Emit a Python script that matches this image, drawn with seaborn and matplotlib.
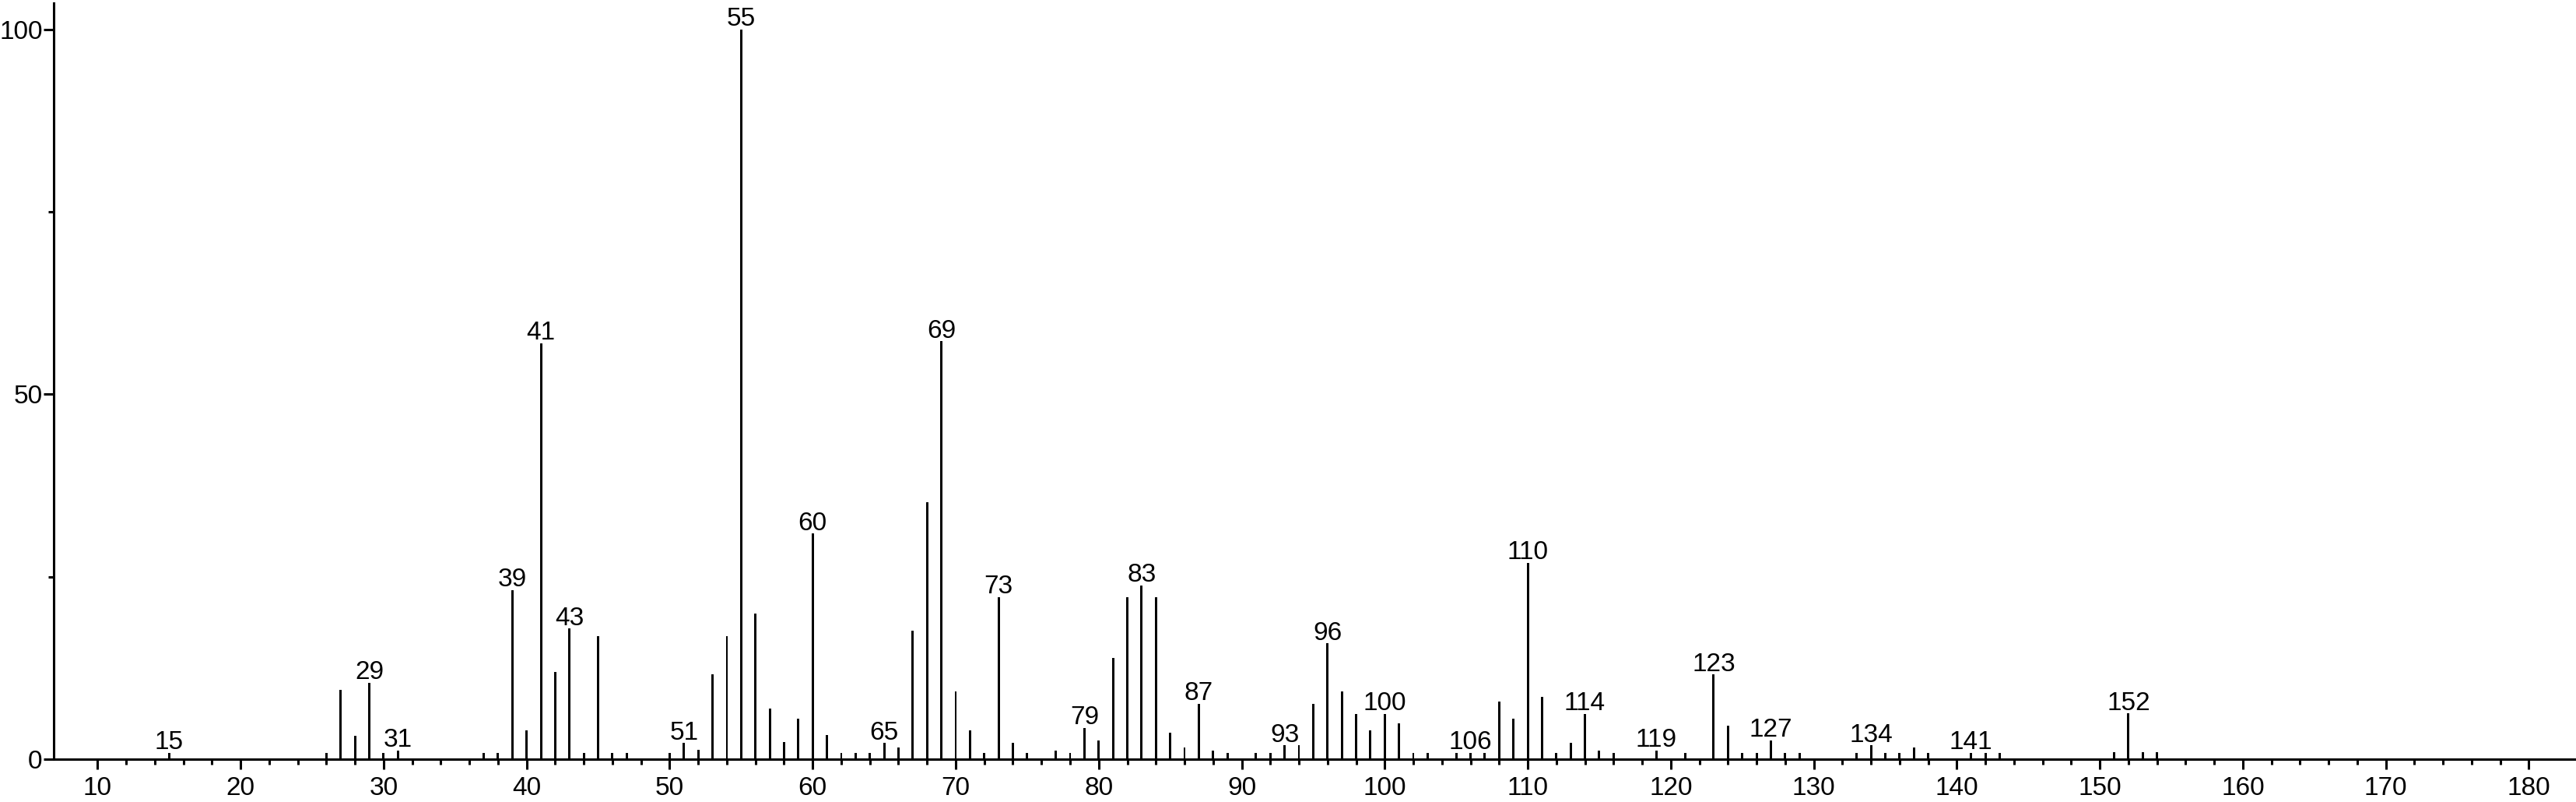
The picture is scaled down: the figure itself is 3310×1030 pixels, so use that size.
import matplotlib
matplotlib.use("Agg")
import matplotlib.pyplot as plt
import seaborn as sns
import numpy as np

# m/z values and relative intensities (%)
mz = [15, 26, 27, 28, 29, 30, 31, 37, 38, 39, 40, 41, 42, 43, 44, 45, 46, 47, 50,
      51, 52, 53, 54, 55, 56, 57, 58, 59, 60, 61, 62, 63, 64, 65, 66, 67, 68, 69,
      70, 71, 72, 73, 74, 75, 77, 78, 79, 80, 81, 82, 83, 84, 85, 86, 87, 88, 89,
      91, 92, 93, 94, 95, 96, 97, 98, 99, 100, 101, 102, 103, 105, 106, 107, 108,
      109, 110, 111, 112, 113, 114, 115, 116, 119, 121, 123, 124, 125, 126, 127,
      128, 129, 133, 134, 135, 136, 137, 138, 141, 142, 143, 151, 152, 153, 154]
intensity = [0.9, 0.9, 9.5, 3.2, 10.5, 0.9, 1.2, 0.9, 0.9, 23.2, 3.9, 57.0, 11.9, 17.9, 0.9, 16.9, 0.9, 0.9, 0.9,
             2.2, 1.3, 11.6, 16.9, 100.0, 19.9, 6.9, 2.3, 5.6, 30.9, 3.3, 0.9, 0.9, 0.9, 2.2, 1.6, 17.6, 35.2, 57.3,
             9.3, 3.9, 0.9, 22.2, 2.2, 0.9, 1.2, 0.9, 4.3, 2.6, 13.9, 22.2, 23.8, 22.2, 3.6, 1.6, 7.6, 1.2, 0.9,
             0.9, 0.9, 1.9, 1.9, 7.6, 15.9, 9.3, 6.2, 3.9, 6.2, 4.9, 0.9, 0.9, 0.9, 0.9, 0.9, 7.9,
             5.6, 26.9, 8.5, 0.9, 2.2, 6.2, 1.2, 0.9, 1.2, 0.9, 11.6, 4.6, 0.9, 0.9, 2.6,
             0.9, 0.9, 0.9, 1.9, 0.9, 0.9, 1.6, 0.9, 0.9, 0.9, 0.9, 1.0, 6.3, 1.0, 1.0]
labeled = [15, 29, 31, 39, 41, 43, 51, 55, 60, 65, 69, 73, 79, 83, 87, 93, 96, 100,
           106, 110, 114, 119, 123, 127, 134, 141, 152]
x_major = list(range(10, 181, 10))
y_major = [0, 50, 100]
y_minor = [25, 75]

sns.set_theme(style="ticks")
plt.rcParams['font.family'] = ['Liberation Sans', 'DejaVu Sans']

fig = plt.figure(figsize=(33.1, 10.3), dpi=100)
ax = fig.add_axes([0.02085, 0.0534, 1 - 0.02085, 0.9427])

sns.barplot(x=mz, y=intensity, native_scale=True, width=0.16, color='black',
            saturation=1, linewidth=0, errorbar=None, ax=ax)

ax.set_xlim(6.93, 183.3)
ax.set_ylim(0, 103.6)

for m, v in zip(mz, intensity):
    if m in labeled:
        ax.annotate(str(m), (m, v), xytext=(0, 3.2), textcoords='offset points',
                    ha='center', va='baseline', fontsize=24, color='black')

ax.set_xticks(x_major)
ax.set_xticklabels([str(t) for t in x_major])
ax.set_xticks([t for t in range(12, 180, 2) if t % 10 != 0], minor=True)
ax.set_yticks(y_major)
ax.set_yticklabels([str(t) for t in y_major])
ax.set_yticks(y_minor, minor=True)

ax.tick_params(axis='both', which='major', length=9.4, width=2.2, color='black',
               labelsize=24, labelcolor='black', direction='out')
ax.tick_params(axis='x', which='major', pad=6.5)
ax.tick_params(axis='y', which='major', pad=1)
ax.tick_params(axis='both', which='minor', length=5, width=2.2, color='black', direction='out')

sns.despine(ax=ax)
for s in ['left', 'bottom']:
    ax.spines[s].set_linewidth(2.2)
    ax.spines[s].set_color('black')
ax.set_xlabel('')
ax.set_ylabel('')
ax.grid(False)
ax.set_facecolor('white')
fig.patch.set_facecolor('white')

fig.savefig('out.png', dpi=100, facecolor='white')
